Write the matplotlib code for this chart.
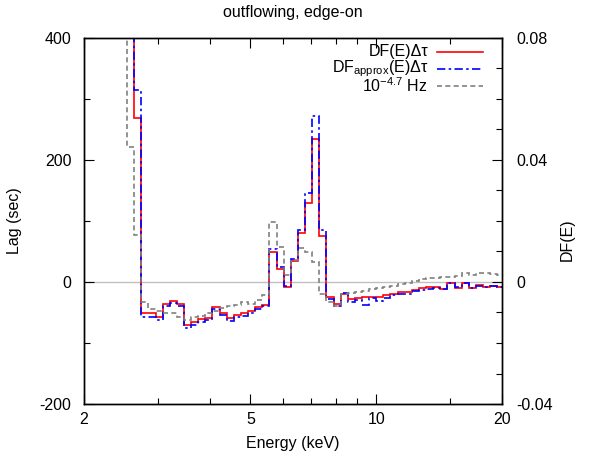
import matplotlib
matplotlib.use("Agg")
import matplotlib.pyplot as plt
from matplotlib.ticker import FixedLocator, NullFormatter, MultipleLocator

plt.rcParams['font.family'] = ['Liberation Sans', 'DejaVu Sans']
plt.rcParams['mathtext.fontset'] = 'custom'
plt.rcParams['mathtext.rm'] = 'Liberation Sans'
plt.rcParams['mathtext.it'] = 'Liberation Sans:italic'
plt.rcParams['axes.unicode_minus'] = False

# Energy bin edges (keV)
energy_edges = [2.438, 2.535, 2.637, 2.742, 2.852, 2.966, 3.085, 3.208, 3.336, 3.470,
                3.609, 3.753, 3.903, 4.059, 4.222, 4.391, 4.566, 4.749, 4.939, 5.136,
                5.342, 5.555, 5.778, 6.009, 6.249, 6.499, 6.759, 7.029, 7.311, 7.603,
                7.907, 8.223, 8.552, 8.894, 9.250, 9.620, 10.005, 10.405, 10.821, 11.254,
                11.704, 12.173, 12.660, 13.166, 13.692, 14.240, 14.810, 15.402, 16.019, 16.659,
                17.326, 18.019, 18.740, 19.489, 20.269]

# Lag (sec) per bin
lag_df = [800, 800, 269, -50, -50, -58, -36, -31, -36, -70, -65, -61, -59, -41, -50,
          -59, -54, -51, -47, -41, -37, 50, 22, -9, 34, 80, 129, 234, 75, -25,
          -36, -19, -28, -27, -25, -24, -25, -22, -19, -17, -17, -13, -10, -9, -9,
          -12, -2, -10, -1, -10, -5, -8, -6, -8]
lag_df_approx = [800, 800, 315, -57, -57, -63, -40, -35, -40, -75, -70, -65, -62, -45, -54,
                 -64, -58, -56, -50, -45, -40, 54, 25, -7, 37, 86, 146, 272, 85, -28,
                 -40, -18, -32, -30, -37, -27, -31, -26, -22, -20, -19, -15, -13, -11, -10,
                 -12, -2, -9, -2, -10, -6, -8, -7, -9]
lag_freq = [800, 221, 77, -33, -44, -48, -50, -50, -57, -62, -58, -55, -50, -47, -42,
            -40, -37, -33, -36, -30, -21, 99, 58, 11, 36, 56, 50, 33, -19, -33,
            -40, -20, -18, -16, -14, -12, -10, -9, -6, -4, -1, 2, 5, 6, 7,
            9, 9, 10, 14, 11, 15, 14, 13, 12]

labels = [r"DF(E)Δτ", r"DF$_{\mathrm{approx}}$(E)Δτ", r"10$^{-4.7}$ Hz"]
colors = ["#ff0000", "#0000ff", "#808080"]
styles = ["-", (0, (5, 2, 1.5, 2)), (0, (3, 2))]

x_major = [2, 5, 10, 20]
x_minor = [3, 4, 6, 7, 8, 9, 15]

fig = plt.figure(figsize=(5.91, 4.59), dpi=100)
ax = fig.add_axes([84/591, 55/459, 418/591, 366/459])

ax.axhline(0, color="#c0c0c0", lw=1.0, zorder=1)
for vals, c, ls in zip([lag_df, lag_df_approx, lag_freq], colors, styles):
    ax.stairs(vals, energy_edges, baseline=None, color=c, linestyle=ls, lw=1.2, zorder=2)

ax.set_xscale('log')
ax.set_xlim(2, 20)
ax.set_ylim(-200, 400)
ax.xaxis.set_major_locator(FixedLocator(x_major))
ax.xaxis.set_minor_locator(FixedLocator(x_minor))
ax.xaxis.set_minor_formatter(NullFormatter())
ax.set_xticklabels([str(v) for v in x_major])
ax.yaxis.set_major_locator(MultipleLocator(200))
ax.yaxis.set_minor_locator(MultipleLocator(100))

fs = 11.5
ax.tick_params(which='both', direction='in', top=True, right=False, labelsize=fs)
ax.tick_params(which='major', length=7, width=0.8)
ax.tick_params(which='minor', length=4, width=0.8)
ax.tick_params(axis='y', pad=9)
ax.tick_params(axis='x', pad=6)

ax2 = ax.twinx()
ax2.set_ylim(-0.04, 0.08)
ax2.yaxis.set_major_locator(FixedLocator([-0.04, 0, 0.04, 0.08]))
ax2.yaxis.set_minor_locator(MultipleLocator(0.01))
ax2.set_yticklabels(["-0.04", "0", "0.04", "0.08"])
ax2.tick_params(which='both', direction='in', labelsize=fs, pad=10)
ax2.tick_params(which='major', length=7, width=0.8)
ax2.tick_params(which='minor', length=4, width=0.8)

for a in (ax, ax2):
    for s in a.spines.values():
        s.set_linewidth(1.0)

ax.set_xlabel("Energy (keV)", fontsize=fs)
ax.xaxis.set_label_coords(0.5, -0.088)
ax.set_ylabel("Lag (sec)", fontsize=fs)
ax.yaxis.set_label_coords(-0.148, 0.5)
ax2.set_ylabel("DF(E)", fontsize=fs)
ax2.yaxis.set_label_coords(1.138, 0.45)

fig.text(0.5 * (84 + 502) / 591, 1 - 12/459, "outflowing, edge-on", ha='center', va='center', fontsize=fs)

# gnuplot-style key
rows = [0.962, 0.915, 0.869]
for lab, c, ls, yy in zip(labels, colors, styles, rows):
    ax.text(0.823, yy, lab, transform=ax.transAxes, ha='right', va='center', fontsize=fs)
    ax.plot([0.845, 0.955], [yy, yy], transform=ax.transAxes, color=c, linestyle=ls, lw=1.2)

fig.savefig("out.png", dpi=100)
